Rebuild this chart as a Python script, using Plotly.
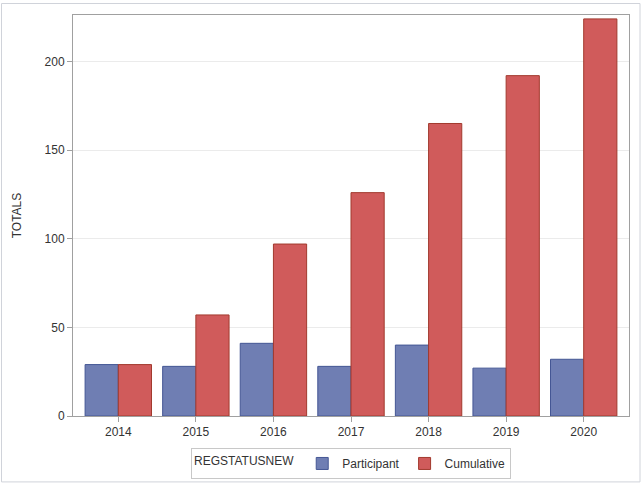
import plotly.graph_objects as go

years = ["2014", "2015", "2016", "2017", "2018", "2019", "2020"]
participant = [29, 28, 41, 28, 40, 27, 32]
cumulative = [29, 57, 97, 126, 165, 192, 224]
y_ticks = [0, 50, 100, 150, 200]

font_family = "Liberation Sans, Arial, sans-serif"

fig = go.Figure()
fig.add_trace(go.Bar(
    x=years, y=participant, name="Participant",
    marker=dict(color="#6F7EB3", line=dict(color="#445694", width=1)),
))
fig.add_trace(go.Bar(
    x=years, y=cumulative, name="Cumulative",
    marker=dict(color="#D05B5B", line=dict(color="#A23A2E", width=1)),
))

L, R, T, B = 73, 15, 14.5, 70
W, H = 644, 486
pw = W - L - R
ph = H - T - B

fig.update_layout(
    width=W, height=H,
    margin=dict(l=L, r=R, t=T, b=B, pad=0, autoexpand=False),
    barmode="group", bargap=0.144, bargroupgap=0,
    plot_bgcolor="white", paper_bgcolor="white",
    font=dict(family=font_family, size=12, color="#333333"),
    hovermode=False,
    showlegend=True,
    legend=dict(
        orientation="h", x=0.5, xanchor="center",
        y=(416 - 448) / ph, yanchor="top",
        title=dict(text="REGSTATUSNEW", side="left", font=dict(size=12)),
        bordercolor="#C8C8C8", borderwidth=1,
        font=dict(size=12), itemwidth=30,
        traceorder="normal", tracegroupgap=0,
    ),
    xaxis=dict(
        type="category", range=[-0.584, 6.584],
        showline=True, linecolor="#A0A0A0", linewidth=1, mirror=True,
        ticks="outside", ticklen=5, tickcolor="#A0A0A0",
        showgrid=False, tickfont=dict(size=12), automargin=False,
    ),
    yaxis=dict(
        range=[0, 226.2], tickvals=y_ticks,
        showline=True, linecolor="#A0A0A0", linewidth=1, mirror=True,
        ticks="outside", ticklen=5, tickcolor="#A0A0A0",
        showgrid=True, gridcolor="#EBEBEB", gridwidth=1,
        zeroline=False, tickfont=dict(size=12), automargin=False,
        title=dict(text="TOTALS", font=dict(size=12), standoff=20),
    ),
    shapes=[dict(
        type="rect", xref="paper", yref="paper",
        x0=(1.5 - L) / pw, x1=(640 - L) / pw,
        y0=(416 - 482) / ph, y1=(416 - 3) / ph,
        line=dict(color="#D0D3DA", width=1), fillcolor="rgba(0,0,0,0)",
        layer="below",
    )],
)

fig.write_html(
    "out.html",
    config={"displayModeBar": False, "staticPlot": True},
    post_script="document.body.style.margin='0';document.body.style.overflow='hidden';",
)
